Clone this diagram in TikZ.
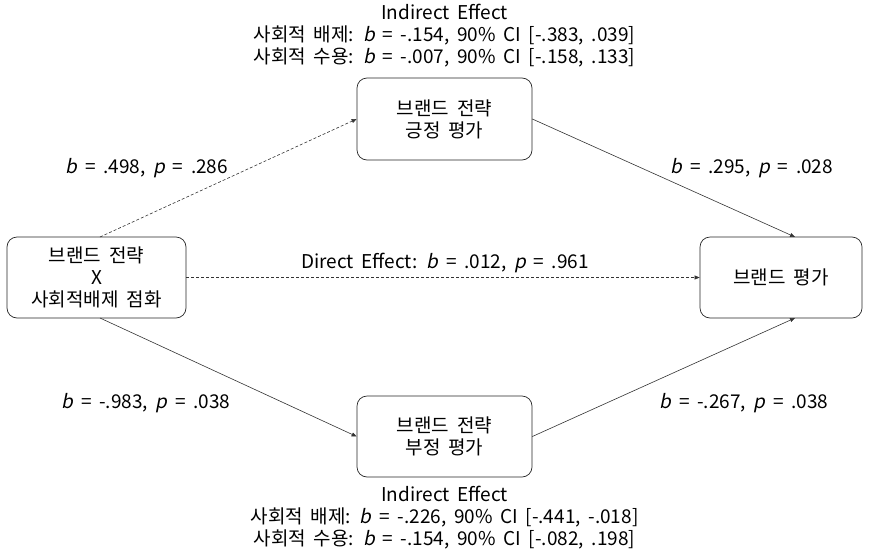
\documentclass[tikz,border=0pt]{standalone}
\usepackage{fontspec}
\setmainfont[AutoFakeSlant=0.2,WordSpace=1.8]{Noto Sans CJK KR}
\usetikzlibrary{arrows.meta}
\begin{document}
\begin{tikzpicture}[x=1pt,y=-1pt,
  box/.style={draw=black!85,line width=0.7pt,rounded corners=10pt,align=center,font=\fontsize{19}{22}\selectfont,inner sep=0pt},
  lbl/.style={font=\fontsize{19}{22}\selectfont,align=center,inner sep=0pt},
  conn/.style={draw=black!80,line width=0.6pt,-{Triangle[length=5pt,width=4pt]}},
  dconn/.style={conn,dashed,dash pattern=on 3pt off 2pt}]
\useasboundingbox (0,0) rectangle (872,557);
\node[box,minimum width=175pt,minimum height=82pt] (pos) at (444.5,119) {브랜드 전략\\긍정 평가};
\node[box,minimum width=175pt,minimum height=81pt] (neg) at (444.5,436.5) {브랜드 전략\\부정 평가};
\node[box,minimum width=179pt,minimum height=81pt] (x) at (96.5,277.5) {브랜드 전략\\X\\사회적배제 점화};
\node[box,minimum width=162pt,minimum height=81pt] (y) at (781,277.5) {브랜드 평가};
\coordinate (xt) at (100,237);
\coordinate (xb) at (100,318);
\coordinate (yt) at (795,237);
\coordinate (yb) at (795,318);
\draw[dconn] (xt) -- (pos.west);
\draw[conn] (pos.east) -- (yt);
\draw[conn] (xb) -- (neg.west);
\draw[conn] (neg.east) -- (yb);
\draw[dconn] (x.east) -- (y.west);
\node[lbl] (ti) at (444.5,36) {Indirect Effect\\사회적 배제: \textit{b} = -.154, 90\% CI [-.383, .039]\\사회적 수용: \textit{b} = -.007, 90\% CI [-.158, .133]};
\node[lbl] (bi) at (444.5,518) {Indirect Effect\\사회적 배제: \textit{b} = -.226, 90\% CI [-.441, -.018]\\사회적 수용: \textit{b} = -.154, 90\% CI [-.082, .198]};
\node[lbl] (l1) at (147,168) {\textit{b} = .498, \textit{p} = .286};
\node[lbl] (l2) at (752,168) {\textit{b} = .295, \textit{p} = .028};
\node[lbl] (l3) at (445,263) {Direct Effect: \textit{b} = .012, \textit{p} = .961};
\node[lbl] (l4) at (146,403) {\textit{b} = -.983, \textit{p} = .038};
\node[lbl] (l5) at (744,403) {\textit{b} = -.267, \textit{p} = .038};
\end{tikzpicture}
\end{document}
